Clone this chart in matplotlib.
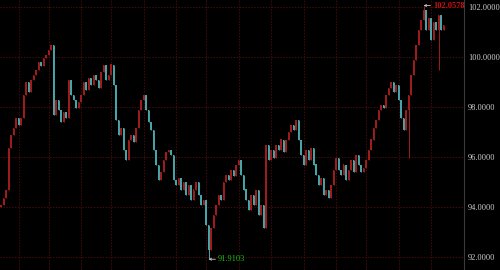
import matplotlib
matplotlib.use("Agg")
import matplotlib.pyplot as plt
import numpy as np

# closing prices, one per bar
closes = [
    94.08, 94.36, 94.68, 96.36, 96.88, 97.16, 97.56, 97.28, 97.56, 98.48,
    99.00, 98.60, 99.08, 99.28, 99.48, 99.80, 99.64, 99.96, 100.08, 100.28,
    100.48, 97.68, 98.28, 97.88, 97.40, 97.80, 97.56, 99.08, 98.48, 98.28,
    97.96, 98.20, 98.48, 99.00, 98.68, 99.16, 98.88, 99.28, 99.08, 98.76,
    99.40, 99.68, 99.08, 99.28, 99.68, 98.88, 97.48, 96.88, 97.16, 96.28,
    95.88, 96.68, 96.88, 96.60, 97.16, 97.88, 98.28, 98.48, 97.88, 97.40,
    97.08, 96.28, 95.68, 95.08, 95.40, 95.88, 96.20, 96.28, 96.08, 95.08,
    94.88, 95.16, 94.68, 95.00, 94.48, 94.88, 94.28, 94.68, 95.00, 94.48,
    94.08, 94.28, 93.28, 92.28, 93.16, 93.68, 94.08, 94.48, 94.28, 95.00,
    95.28, 95.08, 95.48, 95.24, 95.68, 95.88, 95.28, 94.68, 94.28, 93.88,
    94.48, 94.08, 94.68, 93.68, 94.08, 93.16, 96.48, 95.88, 96.28, 95.96,
    96.48, 96.28, 96.68, 96.20, 96.68, 97.00, 97.28, 97.08, 97.48, 96.68,
    96.08, 95.68, 96.28, 95.88, 96.36, 95.68, 95.28, 94.88, 95.16, 94.48,
    94.68, 94.36, 94.88, 95.48, 95.96, 95.48, 95.28, 95.68, 95.08, 95.48,
    95.88, 95.40, 96.08, 95.68, 95.40, 95.56, 95.88, 96.28, 96.68, 97.16,
    97.48, 97.88, 98.08, 97.96, 98.48, 98.76, 99.00, 98.60, 98.88, 98.28,
    97.56, 97.08, 97.88, 98.48, 99.28, 99.88, 100.48, 101.08, 101.48, 101.88,
    101.08, 101.56, 100.68, 101.40, 101.08, 101.68, 101.08, 101.28,
]
first_open = 94.00

# wicks that stick out of the bodies
wick_high = {169: 102.0578}
wick_low = {83: 91.9103, 163: 95.95, 175: 99.50}

# bars where a new month starts (vertical grid)
month_starts = [7, 19, 32, 44, 57, 70, 82, 95, 108, 121, 134, 146, 159, 172]
price_ticks = [92, 94, 96, 98, 100, 102]

UP = "#a01c1c"
DOWN = "#45a5a8"

closes = np.array(closes)
opens = np.concatenate([[first_open], closes[:-1]])
highs = np.maximum(opens, closes)
lows = np.minimum(opens, closes)
for i, v in wick_high.items():
    highs[i] = v
for i, v in wick_low.items():
    lows[i] = v
idx = np.arange(len(closes))
up = closes >= opens

fig = plt.figure(figsize=(5, 2.7), dpi=100, facecolor="black")
ax = fig.add_axes([0, 0, 464 / 500, 1])
ax.set_facecolor("black")

for x in month_starts:
    ax.axvline(x, color="#4a0a0a", lw=0.7, ls=(0, (1.5, 1.5)), zorder=0)
for y in price_ticks:
    ax.axhline(y, color="#4a0a0a", lw=0.7, ls=(0, (1.5, 1.5)), zorder=0)

colors = np.where(up, UP, DOWN)
ax.vlines(idx, lows, highs, colors=colors, lw=0.7, zorder=2)
ax.bar(idx, np.abs(closes - opens) + 0.02, bottom=np.minimum(opens, closes),
       width=0.65, color=colors, linewidth=0, zorder=3)

hi_i = int(np.argmax(highs))
lo_i = int(np.argmin(lows))
arrow = dict(arrowstyle="->,head_length=0.25,head_width=0.12",
             color="#c8c8c8", lw=0.6, shrinkA=0, shrinkB=0)
ax.annotate("%.4f" % highs[hi_i], xy=(hi_i, highs[hi_i]), xytext=(7, 0),
            textcoords="offset points", color="#c81010", fontsize=6,
            family="Liberation Serif", fontweight="bold",
            ha="left", va="center", arrowprops=arrow)
ax.annotate("%.4f" % lows[lo_i], xy=(lo_i, lows[lo_i]), xytext=(7, 0),
            textcoords="offset points", color="#10c010", fontsize=6,
            family="Liberation Serif", ha="left", va="center",
            arrowprops=arrow)

ax.set_xlim(-0.4, 185.2)
ax.set_ylim(91.48, 102.28)
ax.set_xticks([])
ax.yaxis.tick_right()
ax.set_yticks(price_ticks)
ax.set_yticklabels(["%.4f" % t for t in price_ticks])
ax.tick_params(axis="y", length=0, pad=3, labelsize=6, labelcolor="#cccccc")
for lab in ax.get_yticklabels():
    lab.set_family("Liberation Serif")
for side in ["top", "left", "bottom"]:
    ax.spines[side].set_visible(False)
ax.spines["right"].set_color("#3a3a3a")
ax.spines["right"].set_linewidth(0.8)

fig.savefig("out.png", dpi=100, facecolor="black")
